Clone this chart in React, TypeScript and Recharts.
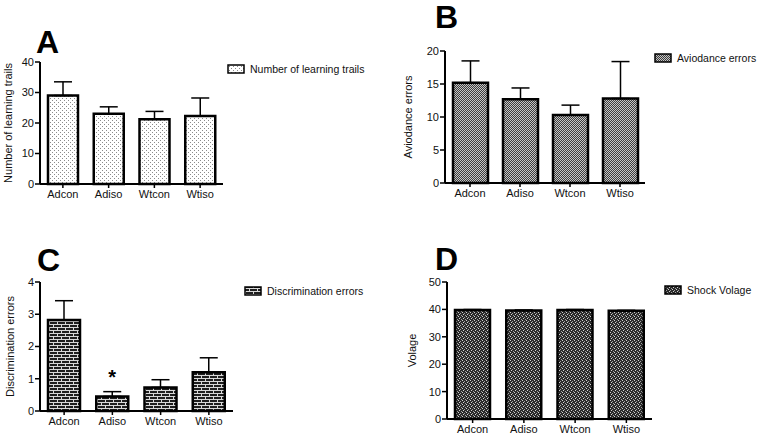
import React from "react";
import { BarChart, Bar, XAxis, YAxis, ErrorBar, LabelList, Legend } from "recharts";

const groups = ["Adcon", "Adiso", "Wtcon", "Wtiso"];

const trials = [29.0, 23.0, 21.2, 22.3];
const trialsSem = [4.5, 2.3, 2.6, 5.9];
const trialsTicks = [0, 10, 20, 30, 40];

const avoidance = [15.2, 12.7, 10.3, 12.8];
const avoidanceSem = [3.3, 1.7, 1.5, 5.6];
const avoidanceTicks = [0, 5, 10, 15, 20];

const discrimination = [2.82, 0.45, 0.73, 1.2];
const discriminationSem = [0.6, 0.15, 0.24, 0.45];
const discriminationMarks = ["", "*", "", ""];
const discriminationTicks = [0, 1, 2, 3, 4];

const voltage = [39.8, 39.6, 39.8, 39.5];
const voltageSem = [0.15, 0.15, 0.15, 0.15];
const voltageTicks = [0, 10, 20, 30, 40, 50];

const FONT = "'Liberation Sans', Arial, sans-serif";

function buildRows(values: number[], sem: number[], marks?: string[]) {
  var rows: { name: string; value: number; err: number[]; mark: string }[] = [];
  for (var i = 0; i < groups.length; i++) {
    rows.push({
      name: groups[i],
      value: values[i],
      err: [0, sem[i]],
      mark: marks ? marks[i] : "",
    });
  }
  return rows;
}

function Patterns() {
  return (
    <svg width={0} height={0} style={{ position: "absolute" }}>
      <defs>
        <pattern id="dots" width="4" height="4" patternUnits="userSpaceOnUse">
          <rect width="4" height="4" fill="#ffffff" />
          <rect x="0" y="0" width="1" height="1" fill="#8a8a8a" />
          <rect x="2" y="2" width="1" height="1" fill="#8a8a8a" />
        </pattern>
        <pattern id="checker" width="2" height="2" patternUnits="userSpaceOnUse">
          <rect width="2" height="2" fill="#3c3c3c" />
          <rect x="0" y="0" width="1" height="1" fill="#c4c4c4" />
          <rect x="1" y="1" width="1" height="1" fill="#c4c4c4" />
        </pattern>
        <pattern id="brick" width="8" height="6" patternUnits="userSpaceOnUse">
          <rect width="8" height="6" fill="#1e1e1e" />
          <rect x="0" y="2" width="8" height="1" fill="#d8d8d8" />
          <rect x="0" y="5" width="8" height="1" fill="#d8d8d8" />
          <rect x="1" y="0" width="1" height="2" fill="#d8d8d8" />
          <rect x="5" y="3" width="1" height="2" fill="#d8d8d8" />
        </pattern>
        <pattern id="speckle" width="4" height="4" patternUnits="userSpaceOnUse">
          <rect width="4" height="4" fill="#2a2a2a" />
          <rect x="0" y="0" width="1" height="1" fill="#d0d0d0" />
          <rect x="2" y="1" width="1" height="1" fill="#a0a0a0" />
          <rect x="1" y="2" width="1" height="1" fill="#d0d0d0" />
          <rect x="3" y="3" width="1" height="1" fill="#a0a0a0" />
        </pattern>
      </defs>
    </svg>
  );
}

interface PanelProps {
  letter: string;
  left: number;
  top: number;
  width: number;
  height: number;
  margin: { top: number; right: number; left: number; bottom: number };
  yWidth: number;
  xHeight: number;
  ticks: number[];
  yLabel: string;
  labelOffset: number;
  legend: string;
  legendPos: { left: number; top: number };
  letterPos: { left: number; top: number };
  fill: string;
  barSize: number;
  rows: any[];
}

function Panel(props: PanelProps) {
  var max = props.ticks[props.ticks.length - 1];

  function renderLegend() {
    return (
      <div style={{ display: "flex", alignItems: "center", fontFamily: FONT, fontSize: 10.5, color: "#111", whiteSpace: "nowrap" }}>
        <svg width={18} height={10} style={{ marginRight: 5 }}>
          <rect x={1} y={1} width={16} height={8} fill={props.fill} stroke="#000" strokeWidth={1.5} />
        </svg>
        {props.legend}
      </div>
    );
  }

  return (
    <div style={{ position: "absolute", left: props.left, top: props.top, width: props.width, height: props.height }}>
      <BarChart width={props.width} height={props.height} data={props.rows} margin={props.margin}>
        <XAxis
          dataKey="name"
          height={props.xHeight}
          axisLine={{ stroke: "#000", strokeWidth: 2 }}
          tickLine={{ stroke: "#000", strokeWidth: 1.5 }}
          tickSize={4}
          tickMargin={2}
          tick={{ fill: "#111", fontSize: 11, fontFamily: FONT }}
        />
        <YAxis
          width={props.yWidth}
          domain={[0, max]}
          ticks={props.ticks}
          interval={0}
          axisLine={{ stroke: "#000", strokeWidth: 2 }}
          tickLine={{ stroke: "#000", strokeWidth: 1.5 }}
          tickSize={5}
          tickMargin={1}
          tick={{ fill: "#111", fontSize: 11, fontFamily: FONT }}
          label={{
            value: props.yLabel,
            angle: -90,
            position: "insideLeft",
            offset: props.labelOffset,
            style: { textAnchor: "middle", fill: "#111", fontSize: 11, fontFamily: FONT },
          }}
        />
        <Legend
          layout="vertical"
          align="center"
          verticalAlign="middle"
          content={renderLegend}
          wrapperStyle={{ left: props.legendPos.left, top: props.legendPos.top, width: "auto", height: "auto" }}
        />
        <Bar dataKey="value" fill={props.fill} stroke="#000" strokeWidth={2.5} barSize={props.barSize} isAnimationActive={false}>
          <ErrorBar dataKey="err" direction="y" width={9} stroke="#000" strokeWidth={1.5} isAnimationActive={false} />
          <LabelList dataKey="mark" position="top" offset={12} style={{ fill: "#000", fontSize: 20, fontWeight: "bold", fontFamily: FONT }} />
        </Bar>
      </BarChart>
      <div style={{ position: "absolute", left: props.letterPos.left, top: props.letterPos.top, fontFamily: FONT, fontWeight: "bold", fontSize: 32, lineHeight: 1, color: "#000" }}>
        {props.letter}
      </div>
    </div>
  );
}

export default function App() {
  return (
    <div style={{ position: "absolute", left: 0, top: 0, width: 764, height: 438, background: "#fff", overflow: "hidden" }}>
      <Patterns />
      <Panel
        letter="A"
        left={0}
        top={0}
        width={382}
        height={215}
        margin={{ top: 62, right: 159, left: 0, bottom: 0 }}
        yWidth={40}
        xHeight={31}
        ticks={trialsTicks}
        yLabel="Number of learning trails"
        labelOffset={8}
        legend="Number of learning trails"
        legendPos={{ left: 227, top: 63 }}
        letterPos={{ left: 36, top: 26 }}
        fill="url(#dots)"
        barSize={30}
        rows={buildRows(trials, trialsSem)}
      />
      <Panel
        letter="B"
        left={382}
        top={0}
        width={382}
        height={215}
        margin={{ top: 51, right: 119, left: 0, bottom: 0 }}
        yWidth={63}
        xHeight={32}
        ticks={avoidanceTicks}
        yLabel="Aviodance errors"
        labelOffset={26}
        legend="Aviodance errors"
        legendPos={{ left: 272, top: 52 }}
        letterPos={{ left: 53, top: 1 }}
        fill="url(#checker)"
        barSize={35}
        rows={buildRows(avoidance, avoidanceSem)}
      />
      <Panel
        letter="C"
        left={0}
        top={220}
        width={382}
        height={218}
        margin={{ top: 62, right: 149, left: 0, bottom: 0 }}
        yWidth={40}
        xHeight={27}
        ticks={discriminationTicks}
        yLabel="Discrimination errors"
        labelOffset={10}
        legend="Discrimination errors"
        legendPos={{ left: 244, top: 65 }}
        letterPos={{ left: 37, top: 24 }}
        fill="url(#brick)"
        barSize={32}
        rows={buildRows(discrimination, discriminationSem, discriminationMarks)}
      />
      <Panel
        letter="D"
        left={382}
        top={220}
        width={382}
        height={218}
        margin={{ top: 62, right: 112, left: 0, bottom: 0 }}
        yWidth={65}
        xHeight={19}
        ticks={voltageTicks}
        yLabel="Volage"
        labelOffset={30}
        legend="Shock Volage"
        legendPos={{ left: 282, top: 64 }}
        letterPos={{ left: 53, top: 23 }}
        fill="url(#speckle)"
        barSize={35}
        rows={buildRows(voltage, voltageSem)}
      />
    </div>
  );
}
